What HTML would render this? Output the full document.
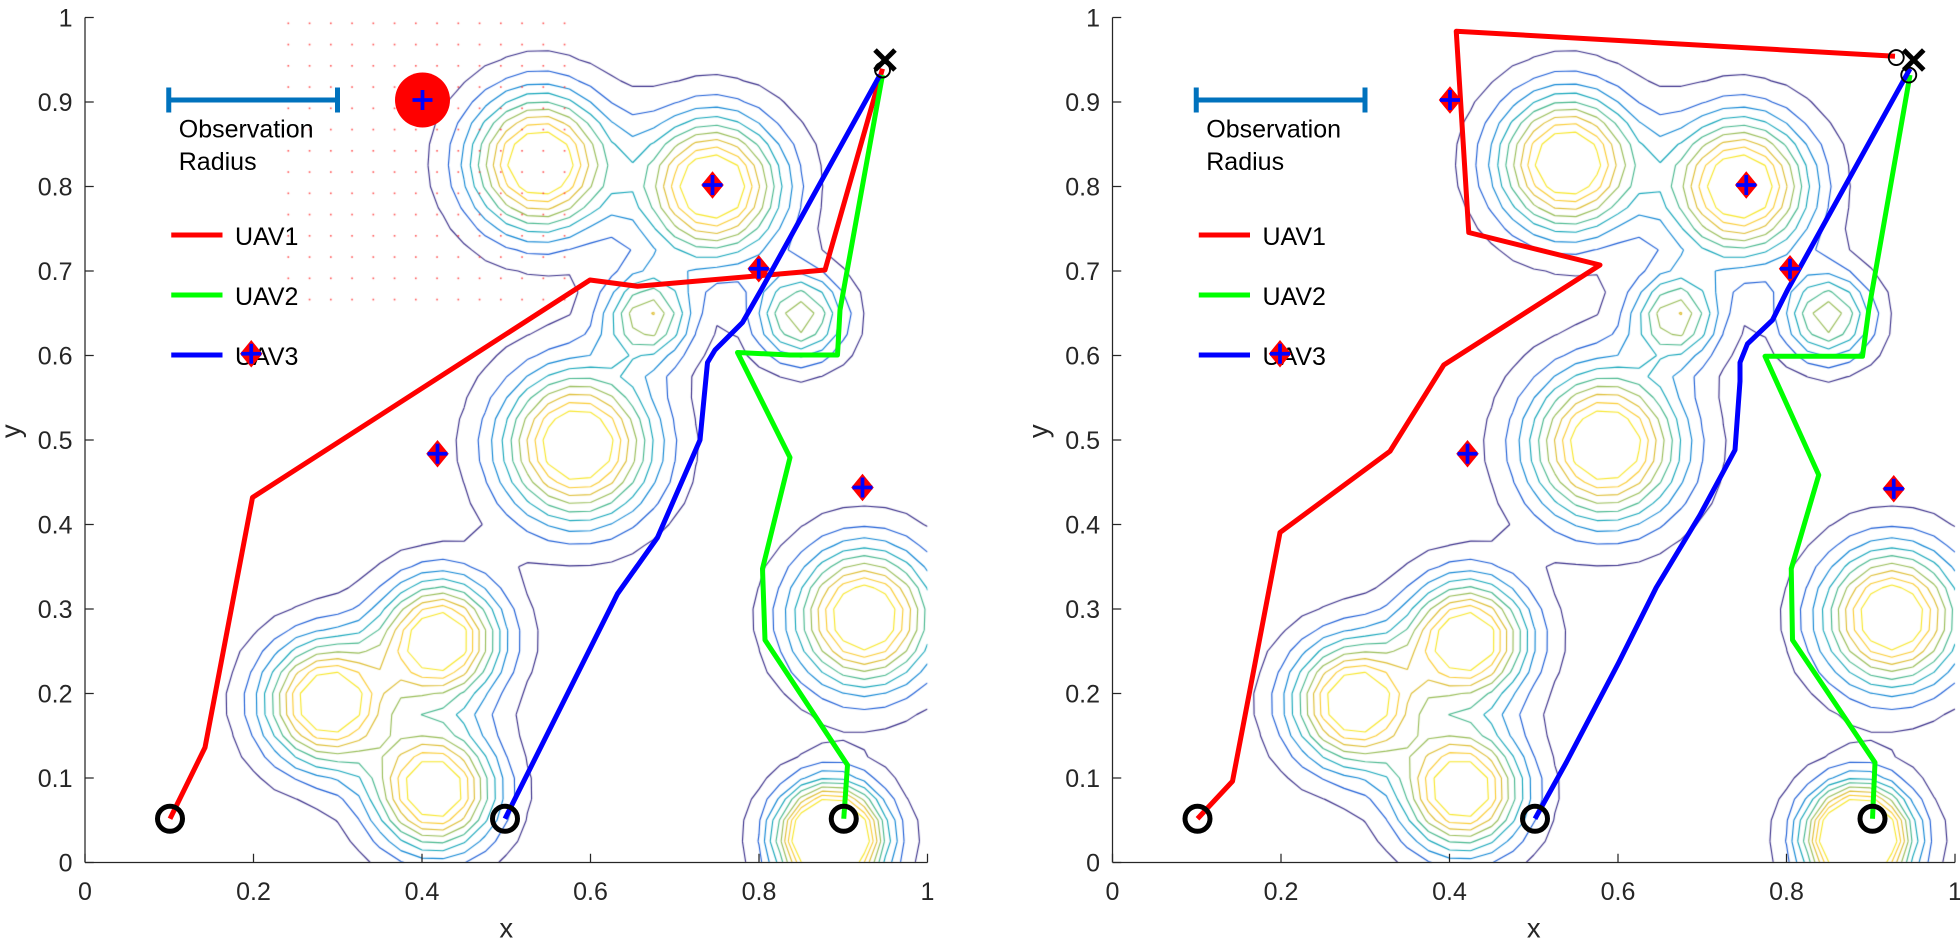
<!DOCTYPE html>
<html><head><meta charset="utf-8"><style>
html,body{margin:0;padding:0;background:#fff;}
#wrap{position:relative;width:1960px;height:952px;overflow:hidden;}
canvas,svg{position:absolute;left:0;top:0;}
text{font-family:"Liberation Sans",sans-serif;}
</style></head><body><div id="wrap">
<canvas id="c" width="1960" height="952"></canvas>
<svg id="s" width="1960" height="952" viewBox="0 0 1568 761.6" xmlns="http://www.w3.org/2000/svg"></svg>
</div>
<script>
const X0=[68,890],SX=674,Y0=690,SY=676;
const peaks=[[0.54,0.828,1,0.055],[0.745,0.80,1,0.055],[0.668,0.646,0.6,0.035],[0.849,0.646,0.6,0.035],
[0.585,0.494,1,0.06],[0.288,0.189,1,0.05],[0.421,0.263,1,0.048],[0.415,0.086,1,0.048],[0.925,0.29,1,0.055],[0.885,0.03,1.5,0.04]];
function f(x,y){let s=0;for(const p of peaks){const dx=x-p[0],dy=y-p[1];s+=p[2]*Math.exp(-(dx*dx+dy*dy)/(2*p[3]*p[3]));}return s;}
const parula=[[0.208,0.166,0.529],[0.078,0.379,0.879],[0.038,0.566,0.812],[0.08,0.69,0.67],[0.45,0.74,0.42],[0.83,0.73,0.19],[0.98,0.78,0.2],[0.97,0.9,0.15]];
function col(t){t=Math.max(0,Math.min(1,t))*(parula.length-1);const i=Math.min(Math.floor(t),parula.length-2),u=t-i;const a=parula[i],b=parula[i+1];
return `rgb(${[0,1,2].map(k=>Math.round(255*(a[k]+(b[k]-a[k])*u))).join(',')})`;}
const N=40,h=1/N,G=[];for(let i=0;i<=N;i++){G[i]=[];for(let j=0;j<=N;j++)G[i][j]=f(i*h,j*h);}
const ctx=document.getElementById('c').getContext('2d');
ctx.scale(1.25,1.25);
const levels=[];for(let l=0.06;l<0.8;l+=0.09)levels.push(l);
for(const ox of X0){ctx.save();ctx.beginPath();ctx.rect(ox,14,SX,676);ctx.clip();ctx.lineWidth=0.9;
levels.forEach((L,li)=>{ctx.strokeStyle=col(li/(levels.length-1));ctx.beginPath();
for(let i=0;i<N;i++)for(let j=0;j<N;j++){const v=[G[i][j],G[i+1][j],G[i+1][j+1],G[i][j+1]];const P=[[i,j],[i+1,j],[i+1,j+1],[i,j+1]];const pts=[];
for(let e=0;e<4;e++){const a=v[e],b=v[(e+1)%4];if((a<L)!=(b<L)){const t=(L-a)/(b-a);const pa=P[e],pb=P[(e+1)%4];pts.push([(pa[0]+(pb[0]-pa[0])*t)*h,(pa[1]+(pb[1]-pa[1])*t)*h]);}}
for(let k=0;k+1<pts.length;k+=2){ctx.moveTo(ox+pts[k][0]*SX,Y0-pts[k][1]*SY);ctx.lineTo(ox+pts[k+1][0]*SX,Y0-pts[k+1][1]*SY);}}
ctx.stroke();});ctx.restore();}
ctx.fillStyle='rgba(255,40,40,0.8)';
for(let x=230;x<465;x+=17)for(let y=18;y<250;y+=17)ctx.fillRect(x,y,1.3,1.3);
let s='';
function axes(ox){let o=`<line x1="${ox}" y1="${Y0}" x2="${ox+SX}" y2="${Y0}" stroke="#262626" stroke-width="1"/><line x1="${ox}" y1="14" x2="${ox}" y2="${Y0}" stroke="#262626" stroke-width="1"/>`;
for(let k=0;k<=10;k++){const y=Y0-k*SY/10;o+=`<line x1="${ox}" y1="${y}" x2="${ox+7}" y2="${y}" stroke="#262626"/><text x="${ox-10}" y="${y+7}" font-size="20" fill="#262626" text-anchor="end">${k==0?'0':k==10?'1':(k/10).toFixed(1)}</text>`;}
for(let k=0;k<=5;k++){const x=ox+k*SX/5;o+=`<line x1="${x}" y1="${Y0}" x2="${x}" y2="${Y0-7}" stroke="#262626"/><text x="${x}" y="${Y0+30}" font-size="20" fill="#262626" text-anchor="middle">${k==0?'0':k==5?'1':(k/5).toFixed(1)}</text>`;}
o+=`<text x="${ox+SX/2}" y="${Y0+60}" font-size="22" fill="#262626" text-anchor="middle">x</text><text transform="translate(${ox-52},345) rotate(-90)" font-size="22" fill="#262626" text-anchor="middle">y</text>`;
o+=`<path d="M${ox+67} 70V90M${ox+67} 80H${ox+202}M${ox+202} 70V90" stroke="#0072BD" stroke-width="4" fill="none"/><text x="${ox+75}" y="110" font-size="20" fill="#000">Observation</text><text x="${ox+75}" y="136" font-size="20" fill="#000">Radius</text>`;
[['UAV1','#ff0000',188],['UAV2','#00ff00',236],['UAV3','#0000ff',284]].forEach(a=>{o+=`<line x1="${ox+69}" y1="${a[2]}" x2="${ox+110}" y2="${a[2]}" stroke="${a[1]}" stroke-width="4"/><text x="${ox+120}" y="${a[2]+8}" font-size="20" fill="#000">${a[0]}</text>`;});
return o;}
function pl(p,c){return `<polyline points="${p.map(q=>q.join(',')).join(' ')}" fill="none" stroke="${c}" stroke-width="4" stroke-linejoin="round"/>`;}
function tgt(x,y){return `<path d="M${x} ${y-11}L${x+9} ${y}L${x} ${y+11}L${x-9} ${y}Z" fill="#ff0000"/><path d="M${x-8} ${y}H${x+8}M${x} ${y-8}V${y+8}" stroke="#0000ff" stroke-width="3"/>`;}
function circ(x,y){return `<circle cx="${x}" cy="${y}" r="10" fill="none" stroke="#000" stroke-width="4"/>`;}
function xm(x,y){return `<path d="M${x-8} ${y-8}L${x+8} ${y+8}M${x+8} ${y-8}L${x-8} ${y+8}" stroke="#000" stroke-width="4"/>`;}
s+=axes(68)+axes(890);
s+=pl([[136,655],[164,598],[202,398],[472,224],[510,229],[660,216],[706,55]],'#ff0000');
s+=pl([[675,655],[678,612],[612,512],[610,455],[632,366],[590,282],[632,284],[670,284],[672,248],[706,60]],'#00ff00');
s+=pl([[404,655],[494,475],[526,430],[560,352],[566,290],[572,280],[594,258],[610,230],[704,60]],'#0000ff');
s+=`<circle cx="338" cy="80" r="22" fill="#ff0000"/><path d="M330 80H346M338 72V88" stroke="#0000ff" stroke-width="3"/>`;
[[570,148],[607,215],[201,283],[350,363],[690,390]].forEach(p=>s+=tgt(...p));
s+=circ(136,655)+circ(404,655)+circ(675,655)+xm(708,48)+`<circle cx="706" cy="56" r="6" fill="none" stroke="#000" stroke-width="1.5"/>`;
s+=pl([[958,655],[986,625],[1024,426],[1112,361],[1155,292],[1280,212],[1175,186],[1165,25],[1516,45]],'#ff0000');
s+=pl([[1498,655],[1500,610],[1434,512],[1433,455],[1455,380],[1412,285],[1440,285],[1490,285],[1495,248],[1528,60]],'#00ff00');
s+=pl([[1228,655],[1253,610],[1295,530],[1325,470],[1360,412],[1388,360],[1392,305],[1392,290],[1398,275],[1418,256],[1430,232],[1528,55]],'#0000ff');
[[1160,80],[1397,148],[1432,215],[1024,283],[1174,363],[1515,391]].forEach(p=>s+=tgt(...p));
s+=circ(958,655)+circ(1228,655)+circ(1498,655)+xm(1531,48)+`<circle cx="1517" cy="46" r="6" fill="none" stroke="#000" stroke-width="1.5"/><circle cx="1527" cy="60" r="6" fill="none" stroke="#000" stroke-width="1.5"/>`;
document.getElementById('s').innerHTML=s;
</script></body></html>
